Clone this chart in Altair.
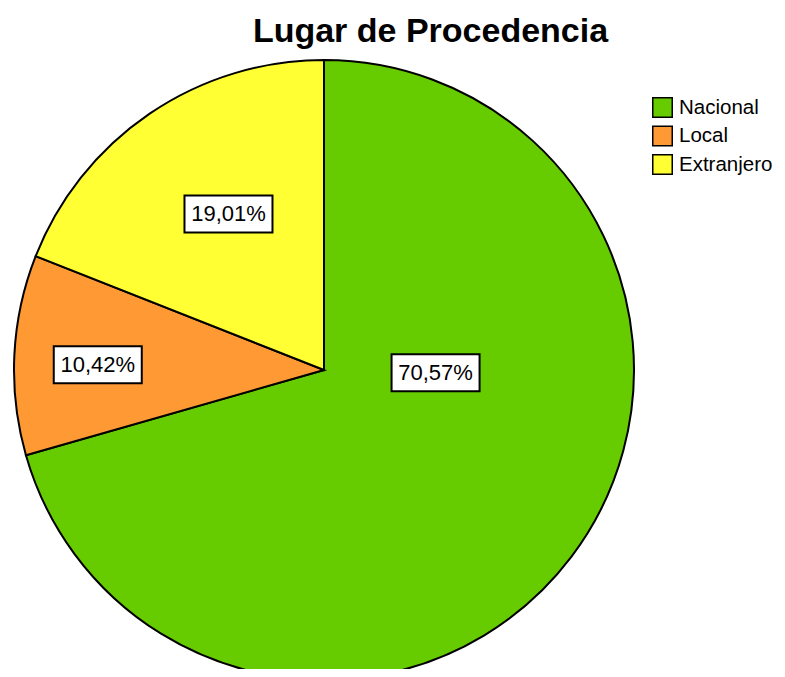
import math
import altair as alt
import pandas as pd

# ---- data ----
categories = ["Nacional", "Local", "Extranjero"]
percentages = [70.57, 10.42, 19.01]
colors = ["#66CC00", "#FF9933", "#FFFF33"]

# ---- layout parameters (pixels in plot area) ----
CX, CY, R = 316, 310, 310
label_angle_frac = [0.36, 0.46, 0.54]     # where in each slice the label sits
label_radius_frac = [0.36, 0.73, 0.59]
BOX_W, BOX_H = 88, 37

df = pd.DataFrame({
    "category": categories,
    "value": percentages,
    "idx": list(range(len(categories))),
})
df["label"] = [f"{v:.2f}%".replace(".", ",") for v in percentages]
total = df["value"].sum()
start = df["value"].cumsum() - df["value"]
ang = (start + df["value"] * pd.Series(label_angle_frac)) / total * 2 * math.pi
rad = pd.Series(label_radius_frac) * R
df["lx"] = CX + rad * ang.apply(math.sin)
df["ly"] = CY - rad * ang.apply(math.cos)
df["x0"] = df["lx"] - BOX_W / 2
df["x1"] = df["lx"] + BOX_W / 2
df["y0"] = df["ly"] - BOX_H / 2
df["y1"] = df["ly"] + BOX_H / 2

FONT = "Liberation Sans"

base = alt.Chart(df)

pie = base.mark_arc(radius=R, stroke="black", strokeWidth=2).encode(
    theta=alt.Theta("value:Q", stack=True),
    order=alt.Order("idx:Q"),
    color=alt.Color(
        "category:N",
        sort=categories,
        scale=alt.Scale(domain=categories, range=colors),
        legend=alt.Legend(
            orient="none", legendX=644, legendY=37, title=None,
            symbolType="square", symbolSize=380,
            symbolStrokeColor="black", symbolStrokeWidth=1.5,
            symbolOpacity=1,
            labelFont=FONT, labelFontSize=20.5, labelColor="black",
            rowPadding=1.5, labelOffset=6, padding=0,
        ),
    ),
    x=alt.value(CX),
    y=alt.value(CY),
)

boxes = base.mark_rect(fill="white", stroke="black", strokeWidth=2).encode(
    x=alt.X("x0:Q", scale=None, axis=None),
    x2="x1:Q",
    y=alt.Y("y0:Q", scale=None, axis=None),
    y2="y1:Q",
)

texts = base.mark_text(font=FONT, fontSize=22, color="black",
                       align="center", baseline="middle").encode(
    x=alt.X("lx:Q", scale=None, axis=None),
    y=alt.Y("ly:Q", scale=None, axis=None),
    text="label:N",
)

chart = alt.layer(pie, boxes, texts).properties(
    width=769,
    height=609,
    padding={"left": 0, "top": 52, "right": 0, "bottom": 0},
    autosize=alt.AutoSizeParams(type="none"),
    title=alt.TitleParams(
        "Lugar de Procedencia", font=FONT, fontSize=34, fontWeight="bold",
        color="black", anchor="middle", frame="group", dx=38, offset=7,
    ),
).configure_view(stroke=None)

chart.save("out.html", embed_options={"renderer": "svg", "actions": False})
